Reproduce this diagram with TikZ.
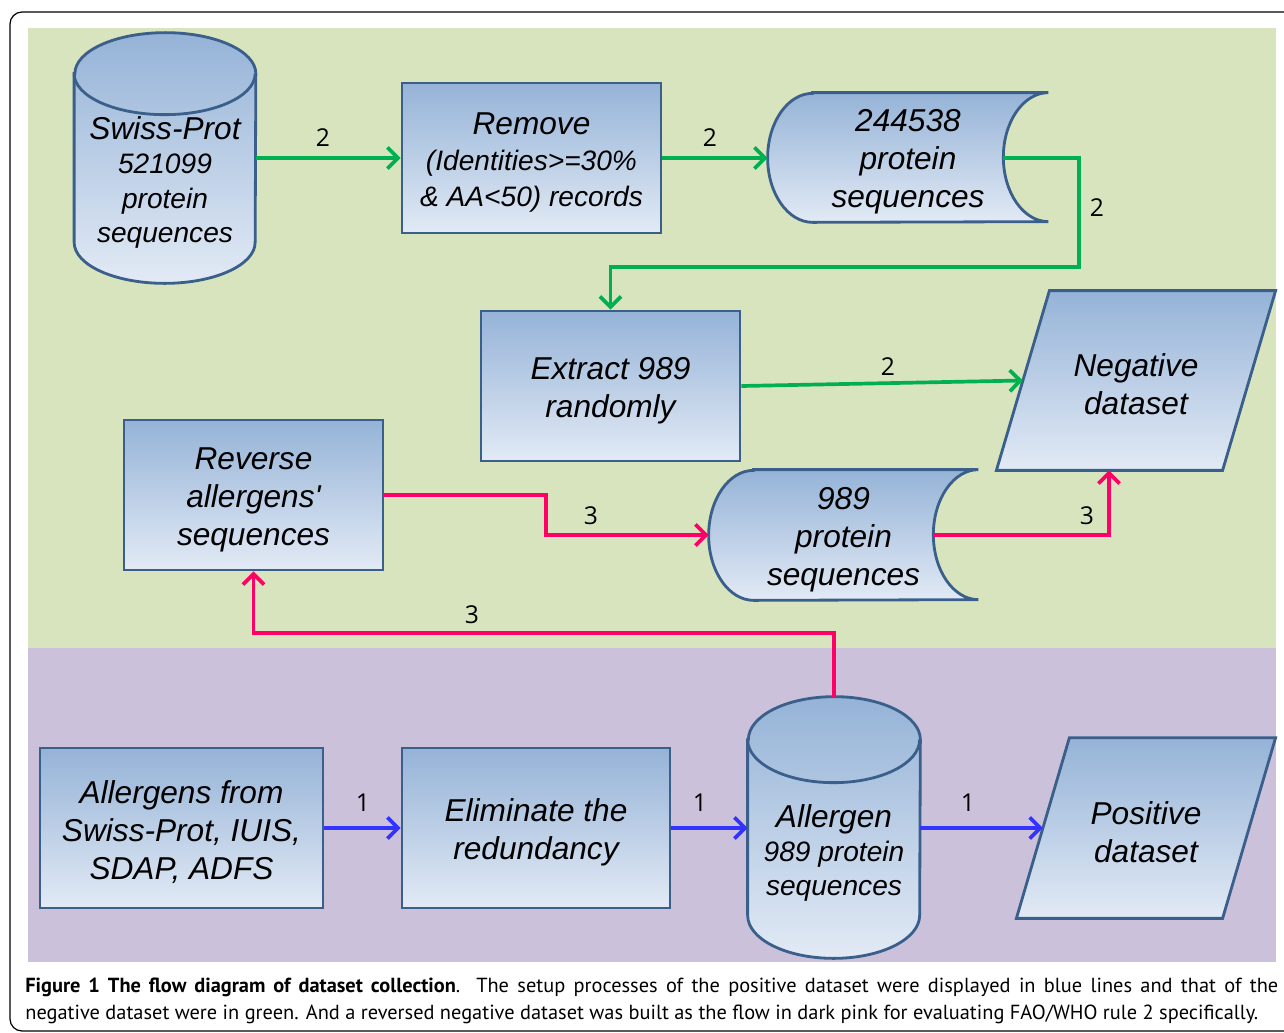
\documentclass[tikz,border=0pt]{standalone}
\usepackage{fontspec}
\usepackage{tikz}
\usetikzlibrary{arrows.meta,positioning,backgrounds}
\newfontfamily\flowfont{Liberation Sans}
\newfontfamily\numfont{Open Sans}
\newfontfamily\capfont{PT Sans}
\newcommand{\subsize}{\fontsize{16}{19.6}\selectfont}
\newcommand{\headsize}{\fontsize{18}{19.6}\selectfont}
\newcommand{\toprow}{\rule{0pt}{17.5pt}}

\definecolor{bggreen}{HTML}{D7E4BD}
\definecolor{bgpurple}{HTML}{CCC1DA}
\definecolor{boxtop}{HTML}{95B3D7}
\definecolor{boxbot}{HTML}{E2EAF5}
\definecolor{boxline}{HTML}{3A5F8B}
\definecolor{flowgreen}{HTML}{00B050}
\definecolor{flowpink}{HTML}{FF0066}
\definecolor{flowblue}{HTML}{3333FF}

\tikzset{
  box/.style={draw=boxline, line width=1.6pt, top color=boxtop, bottom color=boxbot,
    align=center, font=\flowfont\itshape\fontsize{18}{21.6}\selectfont},
  proc/.style={box, rectangle, minimum width=5.18cm, minimum height=3cm},
  plain/.style={align=center, inner sep=0pt, font=\flowfont\itshape\fontsize{18}{21.6}\selectfont},
  shapeline/.style={draw=boxline, line width=1.6pt, top color=boxtop, bottom color=boxbot},
  flow/.style={line width=2.1pt, -{Straight Barb[length=6pt,width=12pt]}},
  lbl/.style={font=\numfont\fontsize{14}{16}\selectfont, inner sep=0pt},
  capt/.style={font=\capfont\fontsize{11.6}{15.4}\selectfont, align=justify, text width=25.06cm, inner sep=0pt}
}

\begin{document}
\begin{tikzpicture}
\useasboundingbox (0,0) rectangle (25.68,-20.66);

% Process nodes
\node[plain, font=\flowfont\itshape\subsize, minimum width=3.62cm, minimum height=4.18cm] (swiss) at (3.3,-3.57)
  {\toprow{\headsize Swiss-Prot}\\521099\\protein\\sequences};
\node[proc, font=\flowfont\itshape\fontsize{16}{20.5}\selectfont] (remove) at (10.63,-3.16)
  {\toprow{\fontsize{18}{20.5}\selectfont Remove}\\(Identities>=30\%\\\& AA<50) records};
\node[plain, minimum width=5.6cm, minimum height=2.58cm] (seq244) at (18.16,-3.15)
  {\toprow 244538\\protein\\sequences};
\node[proc] (extract) at (12.21,-7.72) {\toprow Extract 989\\randomly};
\node[plain, minimum width=4.51cm, minimum height=3.58cm] (neg) at (22.72,-7.61) {\toprow Negative\\dataset};
\node[proc] (reverse) at (5.07,-9.9) {\toprow Reverse\\allergens'\\sequences};
\node[plain, minimum width=5.38cm, minimum height=2.6cm] (seq989) at (16.87,-10.7)
  {\toprow 989\\protein\\sequences};

\node[proc, minimum width=5.66cm, minimum height=3.2cm] (allerg) at (3.63,-16.56)
  {\toprow Allergens from\\Swiss-Prot, IUIS,\\SDAP, ADFS};
\node[proc, minimum width=5.36cm, minimum height=3.2cm] (elim) at (10.72,-16.56)
  {\toprow Eliminate the\\redundancy};
\node[plain, font=\flowfont\itshape\subsize, minimum width=3.44cm, minimum height=4.36cm] (allcyl) at (16.68,-16.98)
  {\toprow{\headsize Allergen}\\989 protein\\sequences};
\node[plain, minimum width=4.11cm, minimum height=3.6cm] (pos) at (22.92,-16.56) {\toprow Positive\\dataset};

% Backgrounds and drawn shapes
\begin{scope}[on background layer]
  \draw[black, line width=0.7pt, rounded corners=0.24cm] (0.2,-0.24) rectangle (26.4,-20.62);
  \fill[bggreen] (0.56,-0.56) rectangle (25.52,-12.96);
  \fill[bgpurple] (0.56,-12.96) rectangle (25.52,-19.24);
  % databases
  \draw[shapeline] (swiss.north west) -- ([yshift=0.82cm]swiss.south west)
    arc[start angle=180, end angle=360, x radius=1.81cm, y radius=0.82cm]
    -- (swiss.north east) arc[start angle=0, end angle=180, x radius=1.81cm, y radius=0.82cm] -- cycle;
  \draw[boxline, line width=1.6pt] (swiss.north west)
    arc[start angle=180, end angle=360, x radius=1.81cm, y radius=0.82cm];
  \draw[shapeline] (allcyl.north west) -- ([yshift=0.86cm]allcyl.south west)
    arc[start angle=180, end angle=360, x radius=1.72cm, y radius=0.86cm]
    -- (allcyl.north east) arc[start angle=0, end angle=180, x radius=1.72cm, y radius=0.86cm] -- cycle;
  \draw[boxline, line width=1.6pt] (allcyl.north west)
    arc[start angle=180, end angle=360, x radius=1.72cm, y radius=0.86cm];
  % stored data
  \draw[shapeline] ([xshift=0.9cm]seq244.north west) -- (seq244.north east)
    arc[start angle=90, end angle=270, x radius=0.9cm, y radius=1.29cm]
    -- ([xshift=0.9cm]seq244.south west)
    arc[start angle=270, end angle=90, x radius=0.9cm, y radius=1.29cm] -- cycle;
  \draw[shapeline] ([xshift=0.9cm]seq989.north west) -- (seq989.north east)
    arc[start angle=90, end angle=270, x radius=0.9cm, y radius=1.3cm]
    -- ([xshift=0.9cm]seq989.south west)
    arc[start angle=270, end angle=90, x radius=0.9cm, y radius=1.3cm] -- cycle;
  % data sets
  \draw[shapeline] ([xshift=0.53cm]neg.north west) -- ([xshift=0.53cm]neg.north east)
    -- ([xshift=-0.53cm]neg.south east) -- ([xshift=-0.53cm]neg.south west) -- cycle;
  \draw[shapeline] ([xshift=0.53cm]pos.north west) -- ([xshift=0.53cm]pos.north east)
    -- ([xshift=-0.53cm]pos.south east) -- ([xshift=-0.53cm]pos.south west) -- cycle;
\end{scope}

% Turning points
\coordinate (gturn) at (21.58,-5.34);
\coordinate (pjog) at (10.92,-10.3);
\coordinate (pturn) at (10,-12.66);

% Negative flow (green)
\draw[flow, flowgreen] (swiss.east |- remove.west) -- (remove.west);
\draw[flow, flowgreen] (remove.east) -- (remove.east -| seq244.west);
\draw[flow, flowgreen] ([xshift=-0.9cm]seq244.east |- remove.east) -| (gturn) -| (extract.north);
\draw[flow, flowgreen] (extract.east) -- (neg.west);

% Reversed flow (pink)
\draw[flow, flowpink] (reverse.east) -| (pjog) |- (seq989.west);
\draw[flow, flowpink] ([xshift=-0.9cm]seq989.east) -| ([xshift=-0.54cm]neg.south);
\draw[flow, flowpink] ([yshift=0.86cm]allcyl.north) |- (pturn) -| (reverse.south);

% Positive flow (blue)
\draw[flow, flowblue] (allerg.east) -- (elim.west);
\draw[flow, flowblue] (elim.east) -- (elim.east -| allcyl.west);
\draw[flow, flowblue] (elim.east -| allcyl.east) -- (pos.west);

% Flow numbers
\node[lbl] (n2a) at (6.46,-2.76) {2};
\node[lbl] (n2b) at (14.2,-2.76) {2};
\node[lbl] (n2c) at (21.94,-4.16) {2};
\node[lbl] (n2d) at (17.76,-7.34) {2};
\node[lbl] (n3a) at (11.82,-10.32) {3};
\node[lbl] (n3b) at (21.74,-10.32) {3};
\node[lbl] (n3c) at (9.44,-12.3) {3};
\node[lbl] (n1a) at (7.26,-16.06) {1};
\node[lbl] (n1b) at (14.0,-16.06) {1};
\node[lbl] (n1c) at (19.36,-16.06) {1};

% Caption
\node[capt, anchor=west] (caption) at (0.5,-20.01)
  {\textbf{Figure 1 The flow diagram of dataset collection}. The setup processes of the positive dataset were displayed in blue lines and that of the\linebreak
   negative dataset were in green. And a reversed negative dataset was built as the flow in dark pink for evaluating FAO/WHO rule 2 specifically.};

\end{tikzpicture}
\end{document}
